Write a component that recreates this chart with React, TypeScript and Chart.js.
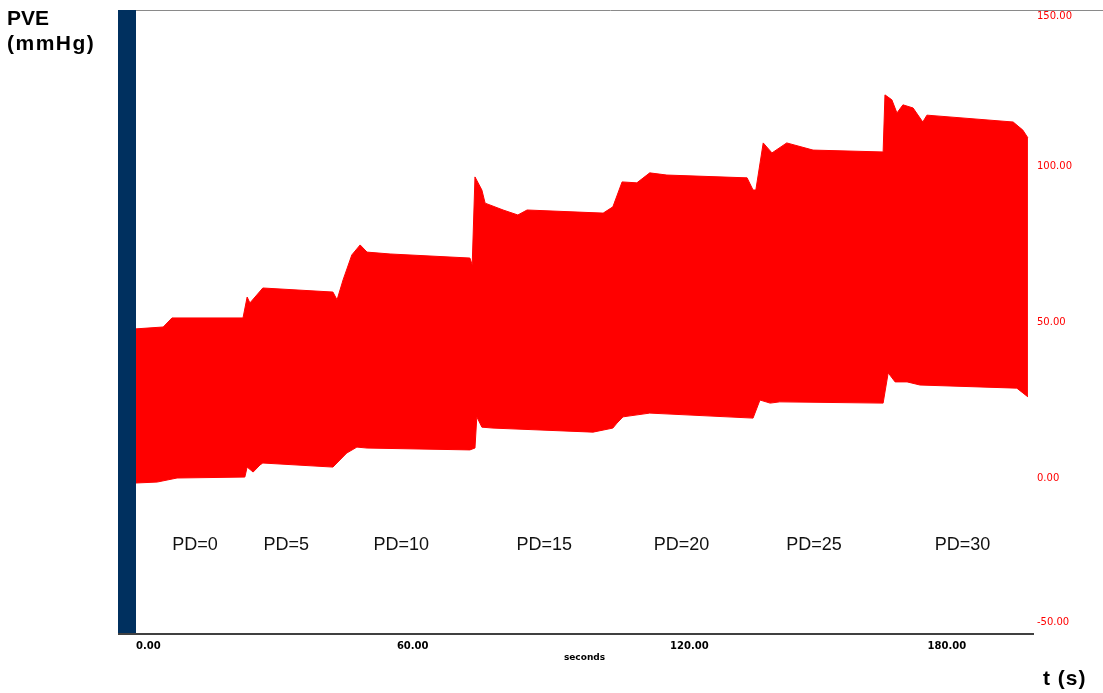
import React, { useEffect, useRef } from "react";
import { Chart, registerables } from "chart.js";

Chart.register(...registerables);

// Upper envelope of PVE (mmHg) vs time (s)
const upperT = [0, 5.9, 7.8, 23.2, 24.1, 24.7, 27.5, 42.7, 43.6, 44.9, 46.8, 48.6, 50.1, 55.1, 72.4, 72.9, 73.5, 75.0, 75.7, 79.6, 82.8, 84.8, 101.3, 103.4, 105.4, 108.6, 111.4, 115.1, 132.5, 133.8, 134.4, 136.0, 137.9, 141.1, 146.8, 162.0, 162.4, 163.9, 165.0, 166.3, 168.5, 170.6, 171.5, 190.2, 192.3, 193.4];
const upperV = [47.8, 48.4, 51.3, 51.3, 58.0, 56.1, 60.9, 59.6, 57.1, 63.5, 71.5, 74.7, 72.4, 71.8, 70.5, 68.3, 96.5, 92.3, 88.1, 85.9, 84.3, 85.9, 84.9, 86.9, 94.9, 94.6, 97.8, 97.1, 96.2, 92.3, 92.3, 107.4, 104.2, 107.4, 105.1, 104.5, 122.8, 121.2, 117.0, 119.6, 118.6, 114.1, 116.3, 114.1, 111.5, 109.0];

// Lower envelope of PVE (mmHg) vs time (s)
const lowerT = [0, 4.6, 8.9, 23.6, 24.1, 25.4, 26.9, 27.5, 42.7, 45.7, 47.9, 50.1, 72.4, 73.5, 73.9, 75.0, 77.4, 99.1, 103.4, 104.3, 105.6, 111.4, 133.8, 135.3, 137.5, 139.6, 162.0, 163.1, 164.6, 167.2, 170.0, 191.0, 193.4];
const lowerV = [-1.6, -1.3, 0, 0.3, 3.5, 1.9, 4.2, 4.8, 3.5, 8.0, 9.9, 9.6, 9.0, 9.6, 19.6, 16.3, 16.0, 14.7, 16.0, 17.6, 19.6, 20.8, 19.2, 25.0, 24.0, 24.4, 24.0, 33.7, 30.8, 30.8, 29.8, 28.8, 26.0];

// Phase annotations
const pdLabels = ["PD=0", "PD=5", "PD=10", "PD=15", "PD=20", "PD=25", "PD=30"];
const pdTimes = [12.8, 32.6, 57.5, 88.5, 118.3, 147.0, 179.2];
const pdLevel = -21.5;

// Axis ticks
const xTicks = [0, 60, 120, 180];
const yTicks = [-50, 0, 50, 100, 150];
const xMin = 0;
const xMax = 194.5;
const yMin = -50;
const yMax = 150;

const decorPlugin = {
  id: "decor",
  beforeDatasetsDraw(chart: any) {
    const { ctx, chartArea } = chart;
    ctx.save();
    // top frame line
    ctx.strokeStyle = "#8a8a8a";
    ctx.lineWidth = 1;
    ctx.beginPath();
    ctx.moveTo(118, chartArea.top + 0.5);
    ctx.lineTo(chart.width, chartArea.top + 0.5);
    ctx.stroke();
    // navy left bar
    ctx.fillStyle = "#00305f";
    ctx.fillRect(118, chartArea.top, chartArea.left - 118, chartArea.bottom - chartArea.top);
    ctx.strokeStyle = "#404040";
    ctx.lineWidth = 2;
    ctx.beginPath();
    ctx.moveTo(118, chartArea.bottom);
    ctx.lineTo(chartArea.left, chartArea.bottom);
    ctx.stroke();
    ctx.restore();
  },
  afterDatasetsDraw(chart: any) {
    const { ctx, scales } = chart;
    ctx.save();
    ctx.fillStyle = "#111";
    ctx.font = "18px 'Liberation Sans', Arial, sans-serif";
    ctx.textAlign = "center";
    ctx.textBaseline = "middle";
    pdLabels.forEach((lab, i) => {
      ctx.fillText(lab, scales.x.getPixelForValue(pdTimes[i]), scales.y.getPixelForValue(pdLevel));
    });
    ctx.restore();
  },
};

export default function App() {
  const ref = useRef<HTMLCanvasElement | null>(null);

  useEffect(() => {
    if (!ref.current) return;
    const upper = upperT.map((t, i) => ({ x: t, y: upperV[i] }));
    const lower = lowerT.map((t, i) => ({ x: t, y: lowerV[i] }));
    const chart = new Chart(ref.current, {
      type: "line",
      data: {
        datasets: [
          {
            label: "upper",
            data: upper,
            borderColor: "#ff0000",
            backgroundColor: "#ff0000",
            borderWidth: 1,
            pointRadius: 0,
            tension: 0,
            fill: "+1",
          },
          {
            label: "lower",
            data: lower,
            borderColor: "#ff0000",
            backgroundColor: "#ff0000",
            borderWidth: 1,
            pointRadius: 0,
            tension: 0,
            fill: false,
          },
        ],
      },
      options: {
        animation: false,
        responsive: false,
        maintainAspectRatio: false,
        layout: { padding: { left: 136, top: 10, right: 0, bottom: 0 } },
        plugins: { legend: { display: false }, tooltip: { enabled: false } },
        scales: {
          x: {
            type: "linear",
            min: xMin,
            max: xMax,
            grid: { display: false, drawTicks: false },
            border: { display: true, color: "#404040", width: 2 },
            afterBuildTicks: (s: any) => {
              s.ticks = xTicks.map((v) => ({ value: v }));
            },
            afterFit: (s: any) => {
              s.height = 59;
              s.paddingLeft = 0;
              s.paddingRight = 0;
            },
            ticks: {
              align: "inner",
              padding: 6,
              color: "#000",
              maxRotation: 0,
              font: { family: "'DejaVu Sans'", size: 10, weight: "bold" },
              callback: (v: any) => Number(v).toFixed(2),
            },
            title: {
              display: true,
              text: "seconds",
              color: "#000",
              font: { family: "'DejaVu Sans'", size: 9, weight: "bold" },
              padding: { top: 0, bottom: 30 },
            },
          },
          y: {
            type: "linear",
            position: "right",
            min: yMin,
            max: yMax,
            grid: { display: false, drawTicks: false },
            border: { display: false },
            afterBuildTicks: (s: any) => {
              s.ticks = yTicks.map((v) => ({ value: v }));
            },
            afterFit: (s: any) => {
              s.width = 70;
              s.paddingTop = 0;
              s.paddingBottom = 0;
            },
            ticks: {
              padding: 4,
              color: "#ff0000",
              font: { family: "'DejaVu Sans'", size: 10 },
              callback: (v: any) => {
                const t = Number(v).toFixed(2);
                if (Number(v) === yMax) return ["", t];
                if (Number(v) === yMin) return [t, "", ""];
                return t;
              },
            },
          },
        },
      },
      plugins: [decorPlugin],
    });
    return () => chart.destroy();
  }, []);

  const bold: React.CSSProperties = {
    position: "absolute",
    fontFamily: "'Liberation Sans', Arial, sans-serif",
    fontWeight: "bold",
    fontSize: 21,
    color: "#000",
    whiteSpace: "nowrap",
    lineHeight: "24px",
  };

  return (
    <div style={{ position: "absolute", left: 0, top: 0, width: 1103, height: 693, background: "#fff", overflow: "hidden" }}>
      <canvas ref={ref} width={1103} height={693} style={{ display: "block", width: 1103, height: 693 }} />
      <div style={{ ...bold, left: 7, top: 6 }}>PVE</div>
      <div style={{ ...bold, left: 7, top: 31, letterSpacing: "1.5px" }}>(mmHg)</div>
      <div style={{ ...bold, left: 1043, top: 666, letterSpacing: "1px" }}>t (s)</div>
    </div>
  );
}
